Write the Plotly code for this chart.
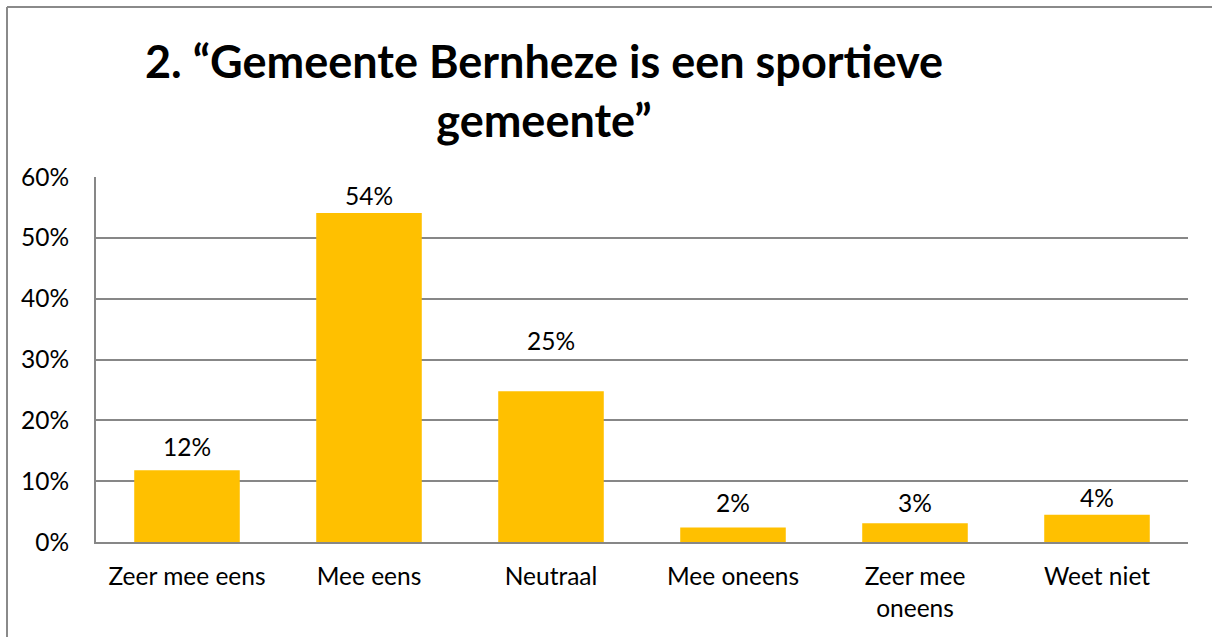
import plotly.graph_objects as go

categories = ["Zeer mee eens", "Mee eens", "Neutraal", "Mee oneens", "Zeer mee<br>oneens", "Weet niet"]
values = [0.118, 0.541, 0.248, 0.024, 0.031, 0.045]
labels = ["12%", "54%", "25%", "2%", "3%", "4%"]
title_text = "2. “Gemeente Bernheze is een sportieve<br>gemeente”"

# how far each data label sits above its bar (px), as in the original
label_shift = [24, 17, 51, 25, 21, 17]

FONT = "Lato, 'Open Sans', sans-serif"
GRID = "#878787"
TXT = 24.5

fig = go.Figure()
fig.add_trace(go.Bar(x=categories, y=values, marker=dict(color="#FFC000", line=dict(width=0)),
                     hoverinfo="skip"))

for cat, val, lab, dy in zip(categories, values, labels, label_shift):
    fig.add_annotation(x=cat, y=val, text=lab, showarrow=False, xref="x", yref="y",
                       yanchor="middle", yshift=dy, font=dict(size=TXT, color="black", family=FONT))

fig.add_annotation(x=0.410, y=1.237, xref="paper", yref="paper", text=title_text, showarrow=False,
                   xanchor="center", yanchor="middle",
                   font=dict(size=45, color="black", family=FONT, weight="bold"))

# outer chart frame (only left and top edges are visible)
fx = (7 - 96) / 1092
fy = 1 + 170 / 365
fig.add_shape(type="line", xref="paper", yref="paper", x0=fx, x1=fx, y0=fy, y1=-0.4,
              line=dict(color="#8a8a8a", width=2))
fig.add_shape(type="line", xref="paper", yref="paper", x0=fx, x1=1.1, y0=fy, y1=fy,
              line=dict(color="#8a8a8a", width=2))

fig.update_layout(
    width=1212, height=637,
    margin=dict(l=96, r=24, t=177, b=95),
    paper_bgcolor="white", plot_bgcolor="white",
    bargap=0.42, showlegend=False,
    font=dict(family=FONT, size=TXT, color="black"),
)
fig.update_xaxes(showline=True, linecolor=GRID, linewidth=2, showgrid=False, ticks="",
                 tickfont=dict(size=TXT, color="black"), ticklabelstandoff=12)
fig.update_yaxes(range=[0, 0.6], dtick=0.1, tickformat=".0%", showgrid=True, gridcolor=GRID, gridwidth=1.5,
                 showline=True, linecolor=GRID, linewidth=2, zeroline=False, ticks="",
                 tickfont=dict(size=TXT, color="black"), ticklabelstandoff=20)

# drop the page's default body margin so the chart starts at the window corner
fig.write_html("out.html", config={"displayModeBar": False},
               post_script="document.body.style.margin='0';")
